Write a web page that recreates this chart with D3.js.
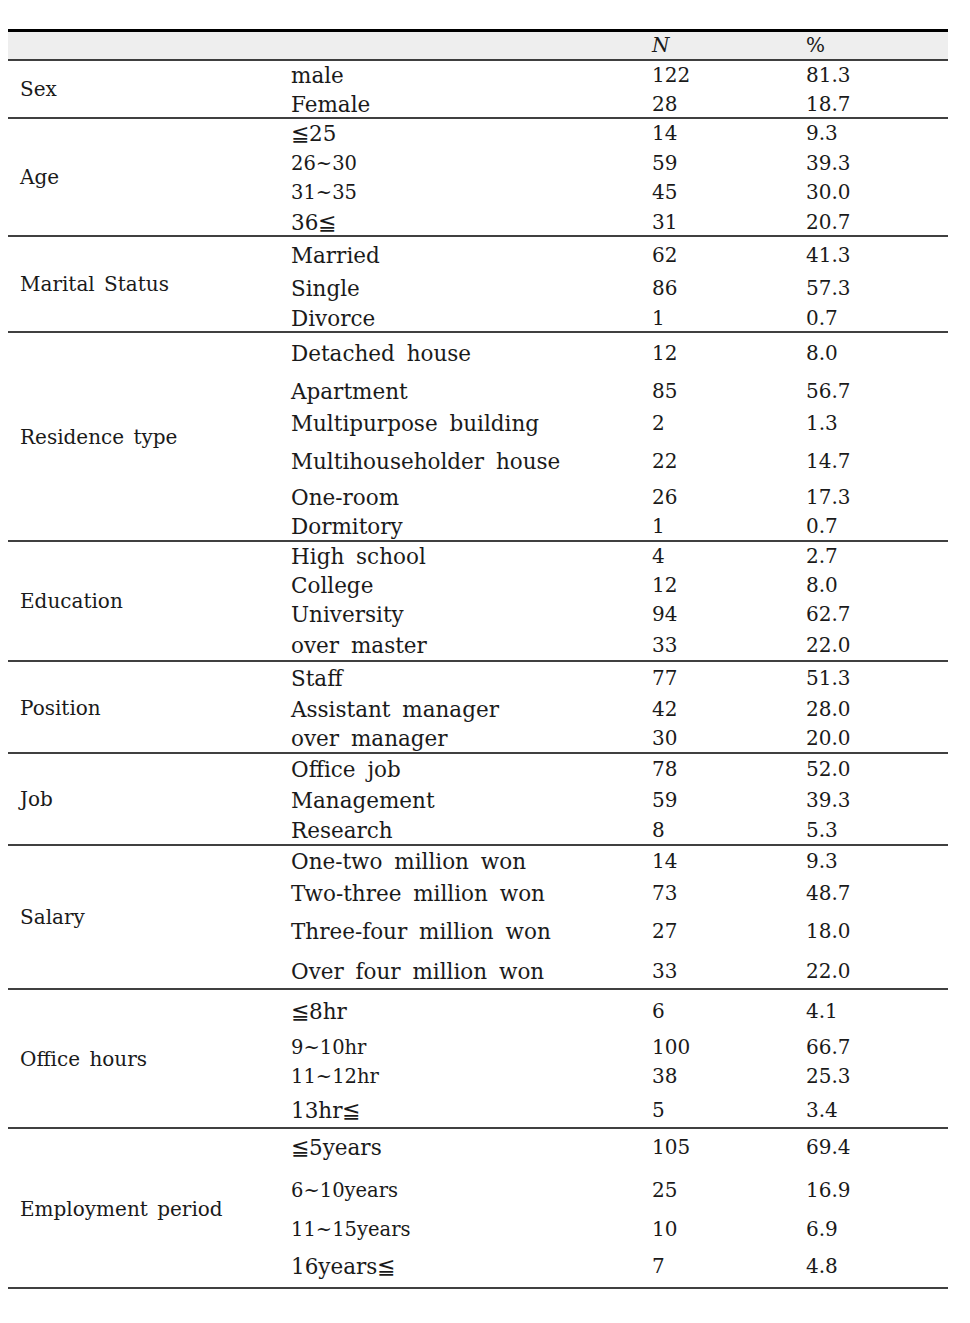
<!DOCTYPE html>
<html><head><meta charset="utf-8">
<script src="https://cdn.jsdelivr.net/npm/d3@7"></script>
<style>body{margin:0;background:#fff}svg{display:block}</style>
</head><body>
<script>
const groups = ["Sex","Age","Marital Status","Residence type","Education","Position","Job","Salary","Office hours","Employment period"];
const groupSizes = [2,4,3,6,4,3,3,4,4,4];
const items = ["male","Female","≦25","26~30","31~35","36≦","Married","Single","Divorce",
  "Detached house","Apartment","Multipurpose building","Multihouseholder house","One-room","Dormitory",
  "High school","College","University","over master","Staff","Assistant manager","over manager",
  "Office job","Management","Research","One-two million won","Two-three million won","Three-four million won","Over four million won",
  "≦8hr","9~10hr","11~12hr","13hr≦","≦5years","6~10years","11~15years","16years≦"];
const counts = [122,28,14,59,45,31,62,86,1,12,85,2,22,26,1,4,12,94,33,77,42,30,78,59,8,14,73,27,33,6,100,38,5,105,25,10,7];
const percents = ["81.3","18.7","9.3","39.3","30.0","20.7","41.3","57.3","0.7","8.0","56.7","1.3","14.7","17.3","0.7",
  "2.7","8.0","62.7","22.0","51.3","28.0","20.0","52.0","39.3","5.3","9.3","48.7","18.0","22.0",
  "4.1","66.7","25.3","3.4","69.4","16.9","6.9","4.8"];
const headers = ["", "", "N", "%"];

// layout (pixel positions of rows in the original table)
const rowCenters = [75,104, 133,163,192,222, 255,288,318, 353,391,423,461,497,526, 556,585,614,645,
  678,709,738, 769,800,830, 861,893,931,971, 1011,1047,1076,1110, 1147,1190,1229,1266];
const groupCenters = [89,177,284,437,601,708,799,917,1059,1209];
const dividers = [118,236,332,541,661,753,845,989,1128,1288];

const W = 970, H = 1323;
const svg = d3.select("body").append("svg").attr("width", W).attr("height", H);
const x = d3.scaleOrdinal().domain(["group","item","n","pct"]).range([20,291,652,806]);
const left = 8, right = 948;
const font = "'DejaVu Serif', 'Liberation Serif', serif";

svg.append("rect").attr("x", left).attr("y", 32).attr("width", right-left).attr("height", 28).attr("fill", "#eeeeee");
svg.append("line").attr("x1", left).attr("x2", right).attr("y1", 30.5).attr("y2", 30.5).attr("stroke", "#000").attr("stroke-width", 3);
svg.append("line").attr("x1", left).attr("x2", right).attr("y1", 60).attr("y2", 60).attr("stroke", "#000").attr("stroke-width", 1.3);

svg.selectAll("line.div").data(dividers).join("line").attr("class","div")
  .attr("x1", left).attr("x2", right).attr("y1", d=>d).attr("y2", d=>d)
  .attr("stroke", "#000").attr("stroke-width", 1.3);

const txt = (sel, fs, ws) => sel.attr("font-family", font).attr("font-size", fs).attr("fill", "#1a1a1a")
  .attr("dominant-baseline", "central").style("word-spacing", ws + "px");

svg.append("text").call(txt, 20, 0).attr("x", x("n")).attr("y", 45).attr("font-style","italic").text(headers[2]);
svg.append("text").call(txt, 20, 0).attr("x", x("pct")).attr("y", 45).text(headers[3]);

svg.selectAll("text.grp").data(groups).join("text").attr("class","grp").call(txt, 20, 3)
  .attr("x", x("group")).attr("y", (d,i)=>groupCenters[i]).text(d=>d);
svg.selectAll("text.item").data(items).join("text").attr("class","item").call(txt, 21.5, 5)
  .attr("font-size", d => d.includes("~") ? 19.5 : 21.5)
  .attr("x", x("item")).attr("y", (d,i)=>rowCenters[i]).text(d=>d);
svg.selectAll("text.n").data(counts).join("text").attr("class","n").call(txt, 20, 0)
  .attr("x", x("n")).attr("y", (d,i)=>rowCenters[i]).text(d=>d);
svg.selectAll("text.p").data(percents).join("text").attr("class","p").call(txt, 20, 0)
  .attr("x", x("pct")).attr("y", (d,i)=>rowCenters[i]).text(d=>d);
</script>
</body></html>
